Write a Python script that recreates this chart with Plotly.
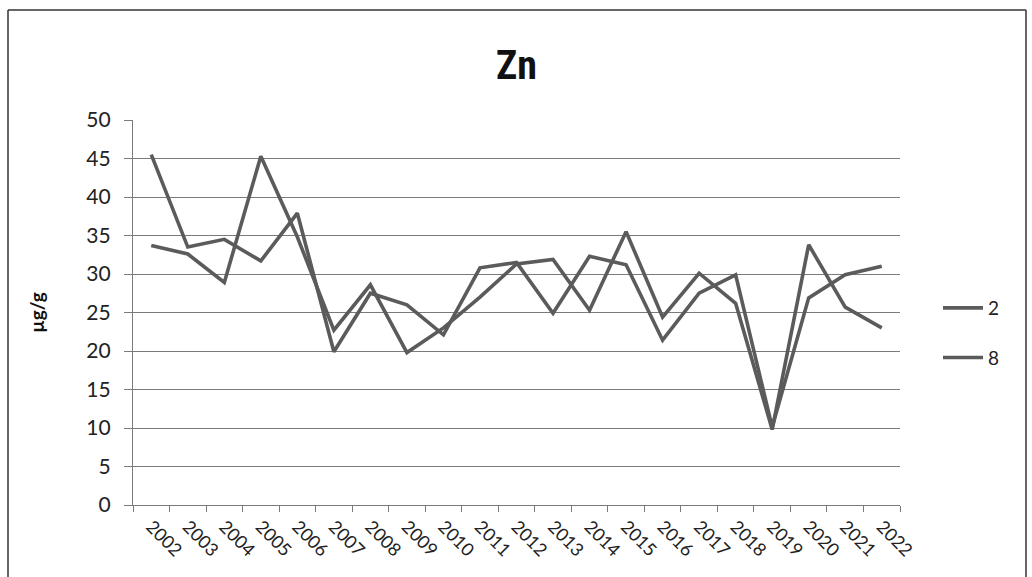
import plotly.graph_objects as go

years = [str(y) for y in range(2002, 2023)]

# Zn concentration (µg/g) per year for the two sampling points
zn_site_2 = [45.5, 33.5, 34.5, 31.7, 37.9, 19.9, 27.5, 26.0, 22.1, 30.8, 31.5,
             24.9, 32.3, 31.2, 21.4, 27.5, 29.9, 10.1, 26.9, 29.9, 31.0]
zn_site_8 = [33.7, 32.6, 28.9, 45.3, 34.8, 22.7, 28.6, 19.8, 23.0, 27.0, 31.3,
             31.9, 25.3, 35.5, 24.4, 30.1, 26.2, 9.8, 33.8, 25.7, 23.0]

series_names = ["2", "8"]
y_ticks = list(range(0, 55, 5))

LINE_COLOR = "#5b5b5b"
GRID_COLOR = "#7a7a7a"
FONT = "Lato, 'Open Sans', 'Liberation Sans', sans-serif"

fig = go.Figure()
for name, vals in zip(series_names, [zn_site_2, zn_site_8]):
    fig.add_trace(go.Scatter(
        x=years, y=vals, name=name, mode="lines",
        line=dict(color=LINE_COLOR, width=3.6),
        legendgroup=name,
    ))

# plot area spans 133..900 px horizontally and 120..505 px vertically
L, R, T, B = 133, 1032 - 900, 120, 577 - 505
pw, ph = 1032 - L - R, 577 - T - B

def px_x(p):
    return (p - L) / pw

def px_y(p):
    return (577 - B - p) / ph

fig.update_layout(
    width=1032, height=577,
    template="none",
    paper_bgcolor="white", plot_bgcolor="white",
    margin=dict(l=L, r=R, t=T, b=B, pad=0),
    font=dict(family=FONT, color="#222"),
    title=dict(
        text="<b>Zn</b>", x=0.5, xanchor="center", xref="paper",
        y=1 - 65 / 577, yanchor="middle", yref="container",
        font=dict(size=40, family="'Liberation Sans Narrow', 'Roboto Condensed', 'Liberation Sans', sans-serif", color="#111"),
    ),
    showlegend=True,
    legend=dict(
        x=px_x(938), xanchor="left", y=px_y(333), yanchor="middle",
        font=dict(size=19, family=FONT, color="#222"),
        traceorder="grouped", tracegroupgap=22,
        bgcolor="rgba(0,0,0,0)", itemwidth=40,
    ),
    xaxis=dict(
        type="category", tickson="boundaries", range=[-0.5, len(years) - 0.5],
        showgrid=False, showline=True, linecolor=GRID_COLOR, linewidth=1.2,
        ticks="outside", ticklen=6, tickcolor=GRID_COLOR, tickwidth=1,
        tickangle=45, tickfont=dict(size=18, family=FONT, color="#222"),
        ticklabelstandoff=3,
        automargin=False, zeroline=False,
    ),
    yaxis=dict(
        range=[0, 50], tickvals=y_ticks, ticktext=[str(v) for v in y_ticks],
        showgrid=True, gridcolor=GRID_COLOR, gridwidth=1.2,
        showline=True, linecolor=GRID_COLOR, linewidth=1.2,
        ticks="outside", ticklen=8, tickcolor=GRID_COLOR, tickwidth=1,
        tickfont=dict(size=21, family=FONT, color="#222"),
        ticklabelstandoff=9,
        title=dict(text="<b>µg/g</b>", standoff=36,
                   font=dict(size=19, family=FONT, color="#111")),
        automargin=False, zeroline=False,
    ),
)

# chart-area frame
frame = dict(type="line", xref="paper", yref="paper",
             line=dict(color="#333", width=1.5))
fig.add_shape(**frame, x0=px_x(8), x1=px_x(1026), y0=px_y(10), y1=px_y(10))
fig.add_shape(**frame, x0=px_x(8), x1=px_x(8), y0=px_y(10), y1=px_y(577))
fig.add_shape(**frame, x0=px_x(1026), x1=px_x(1026), y0=px_y(10), y1=px_y(577))

fig.write_html("out.html")
